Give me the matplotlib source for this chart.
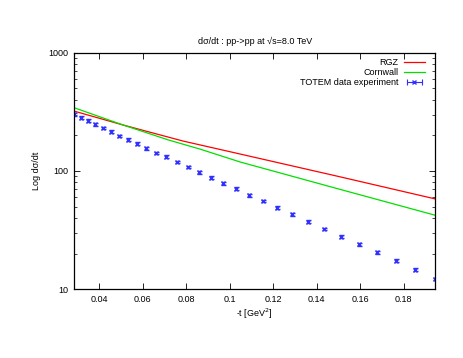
import matplotlib
matplotlib.use("Agg")
import matplotlib.pyplot as plt
from matplotlib.ticker import FixedLocator, NullFormatter
from matplotlib.lines import Line2D
from matplotlib.legend_handler import HandlerLine2D, HandlerTuple

plt.rcParams['font.family'] = ['Liberation Sans', 'DejaVu Sans']

# TOTEM data
t_data = [0.0285, 0.0317, 0.0349, 0.0383, 0.0419, 0.0454, 0.0494, 0.0534, 0.0574,
          0.0618, 0.0663, 0.0709, 0.0758, 0.0809, 0.0861, 0.0915, 0.0971, 0.1031,
          0.1091, 0.1155, 0.1220, 0.1289, 0.1361, 0.1435, 0.1513, 0.1594, 0.1677,
          0.1765, 0.1855, 0.1947]
ds_data = [301, 282, 266, 248, 231, 215, 198, 184, 170,
           156, 142, 132, 119, 108, 97.5, 87.7, 78.7, 70.8,
           62.4, 55.7, 49.0, 43.0, 37.2, 32.4, 27.9, 24.0, 20.6,
           17.5, 14.7, 12.2]
ds_err = [8, 7.5, 7, 6.5, 6, 5.6, 5.2, 4.8, 4.4,
          4.1, 3.7, 3.4, 3.1, 2.8, 2.5, 2.3, 2.0, 1.8,
          1.6, 1.45, 1.3, 1.1, 0.97, 0.85, 0.73, 0.63, 0.54,
          0.46, 0.39, 0.33]

# Model curves
t_rgz = [0.0285, 0.051, 0.0787, 0.105, 0.15, 0.1947]
ds_rgz = [321, 245, 179, 139, 90, 58]
t_corn = [0.0285, 0.051, 0.0719, 0.0865, 0.105, 0.15, 0.1947]
ds_corn = [343, 245, 183, 153, 119, 70.6, 42.2]

xticks = [0.04, 0.06, 0.08, 0.1, 0.12, 0.14, 0.16, 0.18]
xticklabels = ["0.04", "0.06", "0.08", "0.1", "0.12", "0.14", "0.16", "0.18"]
yticks = [10, 100, 1000]
yticklabels = ["10", "100", "1000"]

blue = '#3030ff'

fig = plt.figure(figsize=(4.63, 3.58), dpi=100)
ax = fig.add_axes([0.1598, 0.1919, 0.7808, 0.6609])

l1, = ax.plot(t_rgz, ds_rgz, color='#ff0000', lw=0.9, label='RGZ')
l2, = ax.plot(t_corn, ds_corn, color='#00e000', lw=0.9, label='Cornwall')
ax.errorbar(t_data, ds_data, yerr=ds_err, fmt='x', color=blue, ms=3.2,
            mew=1.0, elinewidth=0.8, capsize=1.8, capthick=0.8)

ax.set_yscale('log')
ax.set_xlim(0.0285, 0.1947)
ax.set_ylim(10, 1000)
ax.xaxis.set_major_locator(FixedLocator(xticks))
ax.set_xticklabels(xticklabels)
ax.yaxis.set_major_locator(FixedLocator(yticks))
ax.set_yticklabels(yticklabels)
ax.yaxis.set_minor_formatter(NullFormatter())

ax.tick_params(which='both', direction='in', top=True, right=True,
               labelsize=6.5, colors='black', pad=4)
ax.tick_params(which='major', length=4, width=0.6)
ax.tick_params(which='minor', length=2, width=0.5)
for s in ax.spines.values():
    s.set_linewidth(0.9)

ax.set_xlabel('-t [GeV$^2$]', fontsize=6.5, labelpad=2)
ax.set_ylabel('Log d\u03c3/dt', fontsize=6.5, labelpad=5)
ax.set_title('d\u03c3/dt : pp->pp at \u221as=8.0 TeV', fontsize=6.5, pad=6)

# legend handle for data: horizontal bar with end caps and x marker
h_caps = Line2D([0], [0], color=blue, lw=0.8, marker='|', ms=4, mew=0.8)
h_x = Line2D([0], [0], color=blue, ls='none', marker='x', ms=3.2, mew=1.0)

leg = ax.legend([l1, l2, (h_caps, h_x)], ['RGZ', 'Cornwall', 'TOTEM data experiment'],
                loc='upper right', bbox_to_anchor=(0.985, 1.0),
                fontsize=6.5, frameon=False, markerfirst=False,
                handlelength=2.3, borderaxespad=0.2, labelspacing=0.1,
                handletextpad=0.6,
                handler_map={h_caps: HandlerLine2D(numpoints=2),
                             h_x: HandlerLine2D(numpoints=1),
                             tuple: HandlerTuple(ndivide=1, pad=0)})
for txt in leg.get_texts():
    txt.set_ha('right')
leg._legend_box.align = 'right'

fig.savefig('out.png', dpi=100)
